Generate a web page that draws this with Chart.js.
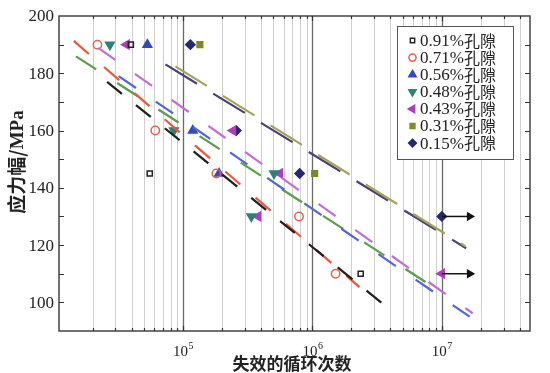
<!DOCTYPE html>
<html><head><meta charset="utf-8">
<script src="https://cdn.jsdelivr.net/npm/chart.js@4/dist/chart.umd.min.js"></script>
<style>html,body{margin:0;padding:0;background:#fff}</style>
</head><body>
<canvas id="c" width="550" height="373"></canvas>
<script>
// ---- data ----
const seriesNames = ['0.91%孔隙','0.71%孔隙','0.56%孔隙','0.48%孔隙','0.43%孔隙','0.31%孔隙','0.15%孔隙'];
const pts091 = [[3.95e4,190],[5.53e4,145],[2.36e6,110]];
const pts071 = [[2.18e4,190],[6.1e4,160],[1.81e5,145],[7.87e5,130],[1.51e6,110]];
const pts056 = [[5.3e4,190],[1.19e5,160],[1.9e5,145]];
const pts048 = [[2.72e4,190],[8.5e4,160],[5.05e5,145],[3.37e5,130]];
const pts043 = [[3.66e4,190],[2.43e5,160],[5.6e5,145],[3.8e5,130],[1e7,110]];
const pts031 = [[1.35e5,190],[1.04e6,145]];
const pts015 = [[1.14e5,190],[2.58e5,160],[7.96e5,145],[1e7,130]];
// fitted S-N lines (start, end)
const fit091 = [[2.59e4,177.0],[3.5e6,99.5]];
const fit071 = [[1.43e4,191.3],[2.31e6,105.3]];
const fit056 = [[3.18e4,179.0],[1.64e7,95.0]];
const fit048 = [[1.49e4,185.9],[8.3e6,105.8]];
const fit043 = [[2.21e4,188.9],[1.73e7,96.2]];
const fit031 = [[8.73e4,182.4],[1.52e7,119.6]];
const fit015 = [[7.31e4,183.1],[1.54e7,118.9]];
// run-out arrows
const runout1 = [[1e7,130],[1.64e7,130]];
const runout2 = [[1e7,110],[1.64e7,110]];
const yTickLabels = [100,120,140,160,180,200];
const xTickLabels = [[1e5,'5'],[1e6,'6'],[1e7,'7']];

const toXY = a => a.map(p => ({x:p[0], y:p[1]}));

const markerStyles = [
  {pts:pts091, color:'#222222', style:'rect', rot:0, fill:false, r:3.6},
  {pts:pts071, color:'#e8604a', style:'circle', rot:0, fill:false, r:4.2},
  {pts:pts056, color:'#3448c0', style:'triangle', rot:0, fill:true, r:5},
  {pts:pts048, color:'#2f7f7a', style:'triangle', rot:180, fill:true, r:5},
  {pts:pts043, color:'#b03cc0', style:'triangle', rot:270, fill:true, r:5},
  {pts:pts031, color:'#7e8a22', style:'rect', rot:0, fill:true, r:4},
  {pts:pts015, color:'#27296e', style:'rectRot', rot:0, fill:true, r:4.6},
];
const fitStyles = [
  {pts:fit091, color:'#1e1e1e', dash:[19,18]},
  {pts:fit071, color:'#e8583c', dash:[20,20]},
  {pts:fit056, color:'#5466d4', dash:[21,24]},
  {pts:fit048, color:'#5b9e48', dash:[24,25]},
  {pts:fit043, color:'#c46cd2', dash:[21,24]},
  {pts:fit031, color:'#a5a35a', dash:[37,19]},
  {pts:fit015, color:'#4b3f72', dash:[37,19]},
];

const datasets = [];
fitStyles.forEach(f => datasets.push({
  type:'line', data:toXY(f.pts), borderColor:f.color, borderWidth:2.2,
  borderDash:f.dash, pointRadius:0, showLine:true, fill:false
}));
[runout1, runout2].forEach(r => datasets.push({
  type:'line', data:toXY(r), borderColor:'#111', borderWidth:1.5, showLine:true,
  pointRadius:[0,4], pointStyle:'triangle', rotation:90, pointBackgroundColor:'#111',
  pointBorderColor:'#111', fill:false
}));
markerStyles.forEach((m,i) => datasets.push({
  type:'scatter', label:seriesNames[i], data:toXY(m.pts), showLine:false,
  pointStyle:m.style, rotation:m.rot, pointRadius:m.r, pointBorderWidth:1.5,
  pointBorderColor:m.color, pointBackgroundColor:m.fill ? m.color : 'rgba(255,255,255,0)'
}));

const SERIF = '"Liberation Serif","Times New Roman",serif';
const CJK = '"Noto Sans CJK SC"';

const deco = {
  id:'deco',
  beforeDatasetsDraw(chart){
    const {ctx, chartArea:a, scales:{x}} = chart;
    ctx.save();
    for (let d = 4; d <= 7; d++) {
      for (let m = 1; m <= 9; m++) {
        const v = m * Math.pow(10, d);
        if (v < x.min || v > x.max) continue;
        const px = Math.round(x.getPixelForValue(v)) + 0.5;
        ctx.beginPath();
        ctx.strokeStyle = m === 1 ? '#6a6a6a' : '#cfcfcf';
        ctx.lineWidth = m === 1 ? 1.3 : 1;
        ctx.moveTo(px, a.top); ctx.lineTo(px, a.bottom); ctx.stroke();
      }
    }
    ctx.restore();
  },
  afterDatasetsDraw(chart){
    const {ctx, chartArea:a, scales:{x,y}} = chart;
    ctx.save();
    // frame
    ctx.strokeStyle = '#444'; ctx.lineWidth = 1.5;
    ctx.strokeRect(a.left, a.top, a.right - a.left, a.bottom - a.top);
    // y ticks (inward, both sides)
    ctx.lineWidth = 1.2; ctx.strokeStyle = '#333';
    for (let v = 100; v < 200; v += 10) {
      const py = Math.round(y.getPixelForValue(v)) + 0.5;
      ctx.beginPath();
      ctx.moveTo(a.left, py); ctx.lineTo(a.left + 5, py);
      ctx.moveTo(a.right, py); ctx.lineTo(a.right - 5, py);
      ctx.stroke();
    }
    // x ticks (inward, top & bottom)
    for (let d = 4; d <= 7; d++) for (let m = 1; m <= 9; m++) {
      const v = m * Math.pow(10, d);
      if (v <= x.min || v >= x.max) continue;
      const px = Math.round(x.getPixelForValue(v)) + 0.5;
      const len = m === 1 ? 5 : 3;
      ctx.beginPath();
      ctx.moveTo(px, a.bottom); ctx.lineTo(px, a.bottom - len);
      ctx.moveTo(px, a.top); ctx.lineTo(px, a.top + len);
      ctx.stroke();
    }
    // y labels
    ctx.fillStyle = '#222';
    ctx.font = '17px ' + SERIF;
    ctx.textAlign = 'right'; ctx.textBaseline = 'middle';
    yTickLabels.forEach(v => ctx.fillText(String(v), a.left - 5, y.getPixelForValue(v) + 1));
    // x labels with superscript
    xTickLabels.forEach(([v, e]) => {
      const px = x.getPixelForValue(v);
      ctx.font = '15px ' + SERIF;
      const w1 = ctx.measureText('10').width;
      ctx.font = '10px ' + SERIF;
      const w2 = ctx.measureText(e).width;
      const start = px - (w1 + w2) / 2;
      ctx.textAlign = 'left'; ctx.textBaseline = 'alphabetic';
      ctx.font = '15px ' + SERIF;
      ctx.fillText('10', start, 356);
      ctx.font = '10px ' + SERIF;
      ctx.fillText(e, start + w1 + 0.5, 349);
    });
    // axis titles
    ctx.font = 'bold 17px ' + CJK;
    ctx.textAlign = 'center'; ctx.textBaseline = 'middle';
    ctx.fillText('失效的循环次数', 292, 364);
    ctx.save();
    ctx.translate(17, 162);
    ctx.rotate(-Math.PI / 2);
    ctx.font = 'bold 19px ' + CJK;
    const t1 = '应力幅/';
    const w1 = ctx.measureText(t1).width;
    ctx.font = 'bold 19px ' + SERIF;
    const w2 = ctx.measureText('MPa').width;
    ctx.textAlign = 'left';
    ctx.font = 'bold 19px ' + CJK;
    ctx.fillText(t1, -(w1 + w2) / 2, 0);
    ctx.font = 'bold 19px ' + SERIF;
    ctx.fillText('MPa', -(w1 + w2) / 2 + w1, 1);
    ctx.restore();
    // legend
    ctx.fillStyle = '#fff';
    ctx.fillRect(397, 26, 117, 134);
    ctx.strokeStyle = '#555'; ctx.lineWidth = 1;
    ctx.strokeRect(397.5, 26.5, 116, 133);
    markerStyles.forEach((m, i) => {
      const yy = 40.5 + i * 17.1;
      ctx.fillStyle = m.fill ? m.color : '#fff';
      ctx.strokeStyle = m.color;
      ctx.lineWidth = 1.5;
      Chart.helpers.drawPoint(ctx, {pointStyle:m.style, radius:m.r * 0.85, rotation:m.rot, borderWidth:1.5}, 412.5, yy);
      ctx.fillStyle = '#222';
      ctx.textAlign = 'left'; ctx.textBaseline = 'middle';
      const num = seriesNames[i].slice(0, 5), rest = seriesNames[i].slice(5);
      ctx.font = '17px ' + SERIF;
      ctx.fillText(num, 420, yy + 1);
      const wn = ctx.measureText(num).width;
      ctx.font = '16px ' + CJK;
      ctx.fillText(rest, 420 + wn, yy);
    });
    ctx.restore();
  }
};

new Chart(document.getElementById('c'), {
  type:'scatter',
  data:{datasets},
  options:{
    responsive:false, animation:false, devicePixelRatio:1,
    layout:{padding:{left:59, right:20, top:16, bottom:42}},
    plugins:{legend:{display:false}, tooltip:{enabled:false}},
    scales:{
      x:{type:'logarithmic', min:1.1e4, max:4.8e7, display:false},
      y:{type:'linear', min:90, max:200, display:false}
    }
  },
  plugins:[deco]
});
</script>
</body></html>
